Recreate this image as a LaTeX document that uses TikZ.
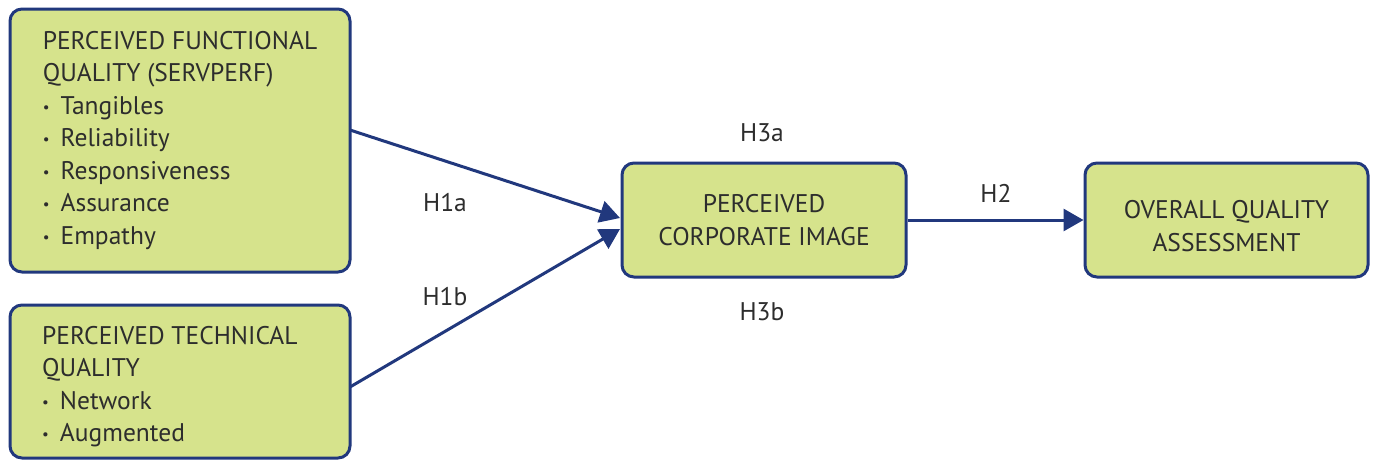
\documentclass[tikz,border=0pt]{standalone}
\usepackage{fontspec}
\setmainfont{PT Sans}
\usetikzlibrary{arrows.meta}
\definecolor{boxfill}{RGB}{214,227,140}
\definecolor{navy}{RGB}{33,56,125}
\definecolor{txt}{RGB}{45,45,45}
\newcommand{\bul}{{\fontsize{15}{15}\selectfont\raisebox{2pt}{•}}\hspace{11pt}}
\begin{document}
\begin{tikzpicture}[x=1pt,y=-1pt,
  box/.style={draw=navy,fill=boxfill,line width=3pt,rounded corners=12pt,inner sep=0pt,
    text=txt,font=\fontsize{25.5}{32.5}\selectfont},
  conn/.style={draw=navy,line width=3pt,-{Triangle[length=20pt,width=22pt]}},
  lbl/.style={text=txt,font=\fontsize{25.5}{32.5}\selectfont,inner sep=0pt}]
\useasboundingbox (0,0) rectangle (1375,459);
\fill[white] (0,0) rectangle (1375,459);
\node[box,minimum width=340pt,minimum height=263pt,align=left] (func) at (180,140.5)
 {PERCEIVED FUNCTIONAL\\QUALITY (SERVPERF)\\\bul Tangibles\\\bul Reliability\\\bul Responsiveness\\\bul Assurance\\\bul Empathy};
\node[box,minimum width=340pt,minimum height=153pt] (tech) at (180,381.5) {};
\node[lbl,anchor=north west,align=left] (techtxt) at (42,326)
 {PERCEIVED TECHNICAL\\QUALITY\\\bul Network\\\bul Augmented};
\node[box,minimum width=284pt,minimum height=114pt,align=center] (img) at (764,220)
 {PERCEIVED\\CORPORATE IMAGE};
\node[box,minimum width=283pt,minimum height=114pt,
  label={[lbl,align=center,yshift=-6pt]center:OVERALL QUALITY\\ASSESSMENT}] (overall) at (1226.5,220) {};
\coordinate (a1) at (350,130);
\coordinate (a2) at (350,387);
\coordinate (e1) at (620,218);
\coordinate (e2) at (620,229);
\draw[conn] (a1) -- (e1);
\draw[conn] (a2) -- (e2);
\draw[conn] (img.east) -- (overall.west);
\node[lbl] (h1a) at (445,203) {H1a};
\node[lbl] (h1b) at (445,297) {H1b};
\node[lbl] (h3a) at (762,133) {H3a};
\node[lbl] (h3b) at (762,312) {H3b};
\node[lbl] (h2) at (996,193) {H2};
\end{tikzpicture}
\end{document}
